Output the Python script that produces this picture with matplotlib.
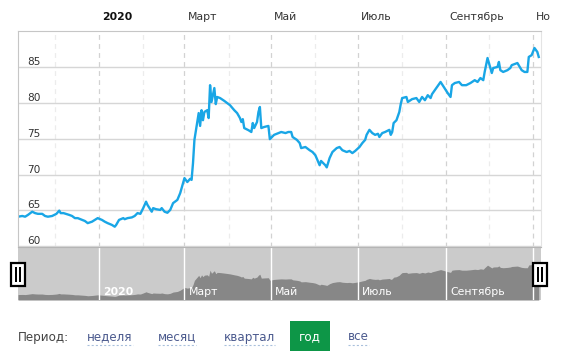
import matplotlib
matplotlib.use("Agg")
import matplotlib.pyplot as plt
from matplotlib.patches import Rectangle
from matplotlib.transforms import offset_copy, blended_transform_factory
import pandas as pd

plt.rcParams['font.family'] = ['DejaVu Sans']
plt.rcParams['lines.scale_dashes'] = False

dates = ['2019-11-05', '2019-11-08', '2019-11-10', '2019-11-12', '2019-11-15', '2019-11-17',
         '2019-11-19', '2019-11-22', '2019-11-24', '2019-11-26', '2019-11-29', '2019-12-02',
         '2019-12-04', '2019-12-05', '2019-12-07', '2019-12-11', '2019-12-13', '2019-12-15',
         '2019-12-17', '2019-12-20', '2019-12-22', '2019-12-24', '2019-12-27', '2019-12-29',
         '2019-12-31', '2020-01-03', '2020-01-05', '2020-01-07', '2020-01-10', '2020-01-12',
         '2020-01-13', '2020-01-15', '2020-01-18', '2020-01-19', '2020-01-21', '2020-01-24',
         '2020-01-26', '2020-01-28', '2020-01-30', '2020-02-01', '2020-02-03', '2020-02-04',
         '2020-02-07', '2020-02-08', '2020-02-10', '2020-02-13', '2020-02-14', '2020-02-16',
         '2020-02-18', '2020-02-20', '2020-02-22', '2020-02-25', '2020-02-27', '2020-02-28',
         '2020-03-01', '2020-03-03', '2020-03-05', '2020-03-06', '2020-03-07', '2020-03-08',
         '2020-03-10', '2020-03-11', '2020-03-12', '2020-03-13', '2020-03-14', '2020-03-15',
         '2020-03-17', '2020-03-18', '2020-03-19', '2020-03-20', '2020-03-22', '2020-03-23',
         '2020-03-24', '2020-03-26', '2020-03-29', '2020-04-02', '2020-04-05', '2020-04-07',
         '2020-04-09', '2020-04-10', '2020-04-11', '2020-04-12', '2020-04-15', '2020-04-17',
         '2020-04-18', '2020-04-19', '2020-04-21', '2020-04-22', '2020-04-23', '2020-04-24',
         '2020-04-26', '2020-04-29', '2020-04-30', '2020-05-03', '2020-05-08', '2020-05-11',
         '2020-05-13', '2020-05-15', '2020-05-16', '2020-05-19', '2020-05-21', '2020-05-22',
         '2020-05-25', '2020-05-28', '2020-05-30', '2020-06-01', '2020-06-03', '2020-06-04',
         '2020-06-05', '2020-06-08', '2020-06-09', '2020-06-11', '2020-06-13', '2020-06-16',
         '2020-06-18', '2020-06-20', '2020-06-23', '2020-06-25', '2020-06-27', '2020-06-29',
         '2020-07-02', '2020-07-04', '2020-07-06', '2020-07-07', '2020-07-09', '2020-07-11',
         '2020-07-13', '2020-07-15', '2020-07-16', '2020-07-18', '2020-07-20', '2020-07-23',
         '2020-07-24', '2020-07-25', '2020-07-26', '2020-07-28', '2020-07-30', '2020-07-31',
         '2020-08-01', '2020-08-04', '2020-08-05', '2020-08-08', '2020-08-11', '2020-08-13',
         '2020-08-15', '2020-08-17', '2020-08-19', '2020-08-21', '2020-08-22', '2020-08-24',
         '2020-08-25', '2020-08-28', '2020-09-02', '2020-09-04', '2020-09-05', '2020-09-07',
         '2020-09-10', '2020-09-12', '2020-09-15', '2020-09-18', '2020-09-21', '2020-09-23',
         '2020-09-25', '2020-09-27', '2020-09-28', '2020-09-30', '2020-10-03', '2020-10-04',
         '2020-10-07', '2020-10-08', '2020-10-09', '2020-10-11', '2020-10-14', '2020-10-16',
         '2020-10-17', '2020-10-21', '2020-10-24', '2020-10-26', '2020-10-28', '2020-10-29',
         '2020-10-31', '2020-11-02', '2020-11-04', '2020-11-05']

values = [64.1, 64.2, 64.1, 64.35, 64.8, 64.6,
          64.5, 64.5, 64.2, 64.1, 64.2, 64.5,
          64.95, 64.6, 64.6, 64.35, 64.2, 63.9,
          63.9, 63.65, 63.5, 63.2, 63.4, 63.65,
          63.9, 63.65, 63.4, 63.2, 62.95, 62.7,
          62.95, 63.65, 63.9, 63.75, 63.9, 64.0,
          64.2, 64.6, 64.5, 65.3, 66.2, 65.75,
          64.8, 65.3, 65.15, 65.05, 65.3, 64.8,
          64.65, 65.05, 66.0, 66.45, 67.4, 68.1,
          69.5, 68.95, 69.4, 69.25, 71.6, 74.85,
          77.35, 78.6, 76.8, 79.0, 77.6, 78.75,
          79.0, 77.9, 82.5, 80.15, 82.1, 79.85,
          80.85, 80.7, 80.3, 79.7, 79.0, 78.6,
          77.9, 77.35, 77.75, 76.5, 76.2, 75.95,
          77.2, 76.5, 77.35, 78.75, 79.45, 76.5,
          76.65, 76.8, 74.95, 75.55, 75.95, 75.8,
          75.95, 75.95, 75.25, 74.85, 74.4, 73.7,
          73.85, 73.4, 73.15, 72.7, 71.75, 71.3,
          71.9, 71.3, 71.0, 72.3, 73.15, 73.7,
          73.85, 73.4, 73.15, 73.3, 73.0, 73.3,
          73.85, 74.4, 74.85, 75.55, 76.25, 75.8,
          75.55, 75.7, 75.25, 75.8, 75.95, 76.25,
          75.55, 75.95, 77.2, 77.6, 78.75, 79.85,
          80.7, 80.85, 80.15, 80.55, 80.7, 80.15,
          80.85, 80.4, 81.1, 80.7, 81.25, 81.8,
          82.1, 82.95, 81.4, 80.85, 82.5, 82.8,
          82.95, 82.5, 82.5, 82.8, 83.2, 82.95,
          83.5, 83.2, 84.35, 86.3, 84.2, 84.9,
          85.05, 85.75, 84.6, 84.35, 84.6, 84.9,
          85.3, 85.6, 84.6, 84.35, 84.35, 86.45,
          86.7, 87.7, 87.15, 86.45]

y_ticks = [60, 65, 70, 75, 80, 85]
# the last month label is cut off by the widget edge in the original, only "Но" is visible
month_labels = ['2020', 'Март', 'Май', 'Июль', 'Сентябрь', 'Но']
period_labels = ['неделя', 'месяц', 'квартал', 'год', 'все']

x = pd.to_datetime(dates)
W, H = 561, 363
fig = plt.figure(figsize=(W / 100, H / 100), dpi=100)


def fx(px):
    return px / W


def fy(py):
    return 1 - py / H


x0 = pd.Timestamp('2019-11-05')
x1 = pd.Timestamp('2020-11-06 14:00')
major = pd.to_datetime(['2020-01-01', '2020-03-01', '2020-05-01', '2020-07-01',
                        '2020-09-01', '2020-11-01'])
minor = pd.to_datetime(['2019-12-01', '2020-02-01', '2020-04-01', '2020-06-01',
                        '2020-08-01', '2020-10-01'])

# main chart
ax = fig.add_axes([fx(18), fy(247), fx(523), 216 / H])
ax.set_xlim(x0, x1)
ax.set_ylim(59.86, 90.08)
ax.set_yticks(y_ticks)
ax.set_xticks(major)
ax.set_xticks(minor, minor=True)
ax.tick_params(which='both', length=0, labelleft=False, labelbottom=False)
ax.grid(axis='y', color='#d6d6d6', lw=1)
ax.grid(axis='x', which='major', color='#d2d2d2', lw=0.9, ls=(0, (3.5, 3)))
ax.grid(axis='x', which='minor', color='#ececec', lw=0.9, ls=(0, (3.5, 3)))
for s in ['top', 'left']:
    ax.spines[s].set_color('#c6c6c6')
ax.spines['right'].set_color('#e4e4e4')
ax.spines['bottom'].set_visible(False)
ax.plot(x, values, color='#19a6e6', lw=1.7, solid_joinstyle='round')

ylab = offset_copy(blended_transform_factory(ax.transAxes, ax.transData), fig=fig,
                   x=9, y=5, units='dots')
for v in y_ticks:
    ax.text(0, v, str(v), transform=ylab, fontsize=7.6, color='#333333',
            ha='left', va='center')

top_tr = offset_copy(blended_transform_factory(ax.transData, ax.transAxes), fig=fig,
                     x=3, y=14, units='dots')
for d, lab in zip(major, month_labels):
    ax.text(d, 1, lab, transform=top_tr, fontsize=7.8, ha='left', va='center',
            color='#111111' if lab == '2020' else '#333333',
            fontweight='bold' if lab == '2020' else 'normal')

# navigator
nav = fig.add_axes([fx(18), fy(300), fx(523), 53 / H])
nav.set_xlim(x0, x1)
nav.set_ylim(60, 100)
nav.set_facecolor('#cbcbcb')
nav.fill_between(x, values, 60, color='#878787', lw=0)
nav.set_xticks([])
nav.set_yticks([])
for s in nav.spines.values():
    s.set_visible(False)
nav.spines['top'].set_visible(True)
nav.spines['top'].set_color('#b5b5b5')
nav_tr = offset_copy(blended_transform_factory(nav.transData, nav.transAxes), fig=fig,
                     x=4, y=0, units='dots')
for d, lab in zip(major, month_labels):
    nav.axvline(d, color='white', lw=1)
    if d < pd.Timestamp('2020-10-01'):
        nav.text(d, 0.15, lab, transform=nav_tr, fontsize=7.8, color='white',
                 ha='left', va='center', fontweight='bold' if lab == '2020' else 'normal')


def handle(px, py):
    fig.add_artist(Rectangle((fx(px), fy(py + 23)), 14 / W, 23 / H,
                             transform=fig.transFigure, facecolor='white',
                             edgecolor='black', lw=1.6))
    for bx in (px + 4, px + 8):
        fig.add_artist(Rectangle((fx(bx), fy(py + 19)), 2 / W, 15 / H,
                                 transform=fig.transFigure, facecolor='black', lw=0))


handle(11, 263)
handle(533, 263)

# period selector
fig.text(fx(18), fy(337), 'Период:', fontsize=8.6, color='#444444', ha='left', va='center')
link_x = [87, 158, 224, 310, 348]
fig.add_artist(Rectangle((fx(290), fy(351)), 40 / W, 30 / H, transform=fig.transFigure,
                         facecolor='#0d9647', lw=0))
links = []
for lab, lx in zip(period_labels, link_x):
    if lab == 'год':
        fig.text(fx(lx), fy(337), lab, fontsize=8.6, color='white', ha='center',
                 va='center')
    else:
        links.append(fig.text(fx(lx), fy(337), lab, fontsize=8.6, color='#4b5a8e',
                              ha='left', va='center'))

fig.canvas.draw()
r = fig.canvas.get_renderer()
for t in links:
    bb = t.get_window_extent(r)
    fig.add_artist(plt.Line2D([bb.x0 / W, bb.x1 / W], [fy(345), fy(345)],
                              transform=fig.transFigure, color='#a9c0dc', lw=0.8,
                              ls=(0, (1.5, 1.5))))

fig.savefig('out.png', dpi=100)
